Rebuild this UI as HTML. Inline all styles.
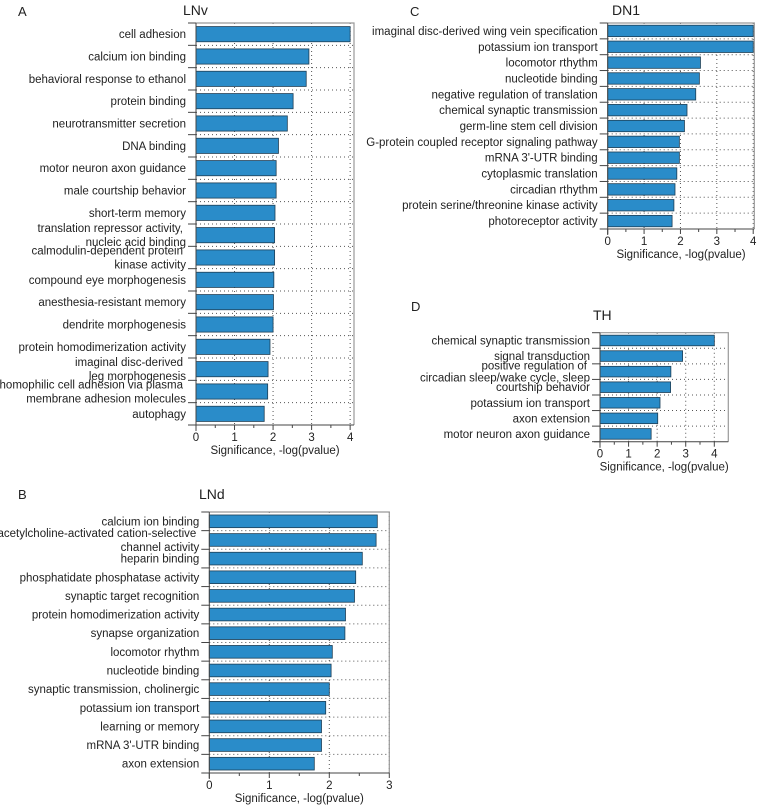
<!DOCTYPE html>
<html><head><meta charset="utf-8"><style>
body{margin:0;background:#fff;}
svg{display:block;font-family:"Liberation Sans",Arial,sans-serif;}
</style></head><body>
<svg id="chart" width="762" height="808"></svg>
<script>
const catsA=["cell adhesion","calcium ion binding","behavioral response to ethanol","protein binding","neurotransmitter secretion","DNA binding","motor neuron axon guidance","male courtship behavior","short-term memory","translation repressor activity,\nnucleic acid binding","calmodulin-dependent protein\nkinase activity","compound eye morphogenesis","anesthesia-resistant memory","dendrite morphogenesis","protein homodimerization activity","imaginal disc-derived\nleg morphogenesis","homophilic cell adhesion via plasma\nmembrane adhesion molecules","autophagy"];
const valsA=[4.0,2.93,2.86,2.52,2.37,2.14,2.08,2.08,2.05,2.04,2.04,2.02,2.01,2.0,1.92,1.87,1.86,1.77];
const catsB=["calcium ion binding","acetylcholine-activated cation-selective\nchannel activity","heparin binding","phosphatidate phosphatase activity","synaptic target recognition","protein homodimerization activity","synapse organization","locomotor rhythm","nucleotide binding","synaptic transmission, cholinergic","potassium ion transport","learning or memory","mRNA 3'-UTR binding","axon extension"];
const valsB=[2.8,2.78,2.55,2.44,2.42,2.27,2.26,2.05,2.03,2.0,1.94,1.87,1.87,1.75];
const catsC=["imaginal disc-derived wing vein specification","potassium ion transport","locomotor rthythm","nucleotide binding","negative regulation of translation","chemical synaptic transmission","germ-line stem cell division","G-protein coupled receptor signaling pathway","mRNA 3'-UTR binding","cytoplasmic translation","circadian rthythm","protein serine/threonine kinase activity","photoreceptor activity"];
const valsC=[4.0,4.0,2.55,2.52,2.42,2.18,2.11,1.97,1.97,1.9,1.85,1.82,1.77];
const catsD=["chemical synaptic transmission","signal transduction","positive regulation of\ncircadian sleep/wake cycle, sleep","courtship behavior","potassium ion transport","axon extension","motor neuron axon guidance"];
const valsD=[4.0,2.89,2.48,2.47,2.1,2.02,1.79];
const ticksA=["0","1","2","3","4"],ticksB=["0","1","2","3"],ticksC=["0","1","2","3","4"],ticksD=["0","1","2","3","4"];

const NS="http://www.w3.org/2000/svg";
const svg=document.getElementById('chart');
function mk(tag,attrs,parent){const e=document.createElementNS(NS,tag);for(const k in attrs)e.setAttribute(k,attrs[k]);(parent||svg).appendChild(e);return e;}
function txt(s,x,y,anchor,size,parent){const t=mk('text',{x:x,y:y,'text-anchor':anchor,'font-size':size,fill:'#222'},parent);t.textContent=s;return t;}

function panel(o){
  const g=mk('g',{});
  
  
  const xs=v=>o.x0+(v/o.max)*(o.x1-o.x0);
  const n=o.cats.length,rh=(o.y1-o.y0)/n;
  const L=txt(o.letter,o.lx,o.ly,'start',13,g);
  
  const T=txt(o.title,o.tx,o.ty,'start',14,g);
  
  // grid
  o.ticks.forEach((t,i)=>{const v=+t;if(v>0){const l=mk('line',{x1:xs(v),x2:xs(v),y1:o.y0,y2:o.y1,stroke:'#555','stroke-width':1,'stroke-dasharray':'1,3'},g);}});
  for(let i=1;i<n;i++){const y=o.y0+i*rh;const l=mk('line',{x1:o.x0,x2:xs(o.max),y1:y,y2:y,stroke:'#555','stroke-width':1,'stroke-dasharray':'1,3'},g);}
  // frame top/right
  mk('path',{d:`M${o.x0},${o.y0}H${xs(o.max)}V${o.y1}`,fill:'none',stroke:'#999','stroke-width':1.2},g);
  // bars
  const bh=rh*o.bf;
  o.vals.forEach((v,i)=>{
    const yc=o.y0+(i+0.5)*rh;
    const r=mk('rect',{x:o.x0,y:yc-bh/2,width:xs(v)-o.x0,height:bh,fill:'#2a8cc9',stroke:'#1d3e55','stroke-width':0.8},g);
    
    
    const parts=o.cats[i].split('\n');
    const t=mk('text',{'text-anchor':'end','font-size':11.5,fill:'#222'},g);
    
    
    if(parts.length===1){t.setAttribute('x',o.x0-10);t.setAttribute('y',yc+4);t.textContent=parts[0];}
    else{parts.forEach((p,k)=>{const s=mk('tspan',{x:o.x0-10-(k===0?3:0),y:yc+4+(k===0?-o.sp:o.sp)},t);s.textContent=p;});}
  });
  // y-axis
  mk('line',{x1:o.x0,x2:o.x0,y1:o.y0,y2:o.y1+6,stroke:'#444','stroke-width':1},g);
  for(let i=0;i<=n;i++){const y=o.y0+i*rh;mk('line',{x1:o.x0-8,x2:o.x0,y1:y,y2:y,stroke:'#444','stroke-width':1},g);}
  // x-axis
  mk('line',{x1:o.x0-6,x2:xs(o.max),y1:o.y1,y2:o.y1,stroke:'#444','stroke-width':1},g);
  o.ticks.forEach(t=>{const v=+t;mk('line',{x1:xs(v),x2:xs(v),y1:o.y1,y2:o.y1+5,stroke:'#444'},g);
    if(v+0.5<=o.max)mk('line',{x1:xs(v+0.5),x2:xs(v+0.5),y1:o.y1,y2:o.y1+3,stroke:'#444'},g);
    const tl=txt(t,xs(v),o.y1+16,'middle',11.5,g);});
  const at=txt('Significance, -log(pvalue)',(o.x0+xs(o.max))/2,o.y1+29,'middle',11.5,g);
  
}
panel({name:'lnv',letter:'A',lx:18,ly:16,title:'LNv',tx:183,ty:15,cats:catsA,vals:valsA,ticks:ticksA,x0:196,x1:354,max:4.1,y0:23,y1:425,bf:0.68,sp:7});
panel({name:'lnd',letter:'B',lx:18,ly:499,title:'LNd',tx:199,ty:499,cats:catsB,vals:valsB,ticks:ticksB,x0:209.3,x1:389.3,max:3.0,y0:512,y1:773,bf:0.68,sp:7});
panel({name:'dn1',letter:'C',lx:410,ly:16,title:'DN1',tx:612,ty:15,cats:catsC,vals:valsC,ticks:ticksC,x0:607.7,x1:754.3,max:4.03,y0:23,y1:229,bf:0.72,sp:7});
panel({name:'th',letter:'D',lx:411,ly:311,title:'TH',tx:593,ty:320,cats:catsD,vals:valsD,ticks:ticksD,x0:600,x1:728.3,max:4.49,y0:332.7,y1:441.7,bf:0.68,sp:6});
</script>
</body></html>
